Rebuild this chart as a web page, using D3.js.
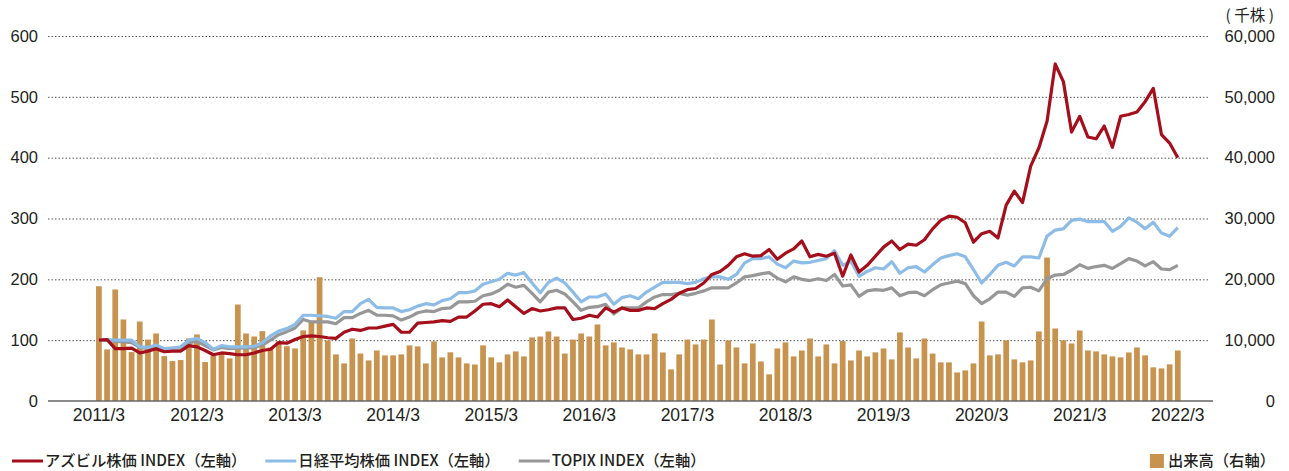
<!DOCTYPE html>
<html>
<head>
<meta charset="utf-8">
<script src="https://cdn.jsdelivr.net/npm/d3@7"></script>
<style>
  body { margin: 0; background: #fff; }
  svg { display: block; font-family: "Liberation Sans", Arial, sans-serif; }
  .jp { font-family: "Noto Sans CJK JP", "Noto Sans", sans-serif; }
</style>
</head>
<body>
<svg id="chart"></svg>
<script>
// chart size
const width = 1289, height = 471;

// months 2011/3 .. 2022/3
const months = d3.timeMonth.range(new Date(2011, 2, 1), new Date(2022, 3, 1)).map(d3.timeFormat('%Y/%-m'));
const tickLabels = ['2011/3','2012/3','2013/3','2014/3','2015/3','2016/3','2017/3','2018/3','2019/3','2020/3','2021/3','2022/3'];
const leftTicks = [0, 100, 200, 300, 400, 500, 600];
const rightTicks = [0, 10000, 20000, 30000, 40000, 50000, 60000];

// アズビル株価 INDEX
const azbil = [
  100, 101, 86, 86, 87, 79, 82, 86, 81, 82,
  82, 91, 89, 83, 76, 79, 78, 76, 76, 79,
  83, 85, 96, 95, 101, 106, 107, 106, 104, 103,
  113, 118, 116, 120, 120, 123, 126, 113, 113, 128,
  129, 130, 132, 131, 138, 138, 148, 159, 160, 155,
  166, 155, 144, 152, 148, 150, 153, 153, 134, 136,
  141, 138, 153, 146, 153, 149, 149, 153, 152, 160,
  167, 177, 183, 185, 194, 208, 213, 223, 237, 242,
  238, 239, 249, 233, 243, 250, 263, 237, 241, 238,
  243, 205, 240, 212, 223, 238, 253, 263, 249, 258,
  256, 265, 283, 297, 304, 302, 293, 261, 275, 279,
  268, 322, 345, 326, 386, 416, 460, 554, 525, 442,
  468, 434, 431, 452, 417, 468, 471, 475, 492, 514,
  438, 424, 400
];

// 日経平均株価 INDEX
const nikkei = [
  100, 101, 100, 100, 100, 89, 88, 92, 86, 86,
  89, 100, 103, 96, 85, 91, 89, 89, 89, 90,
  96, 107, 115, 119, 126, 141, 141, 140, 139, 136,
  147, 147, 160, 167, 154, 153, 153, 147, 150, 156,
  160, 158, 165, 168, 178, 178, 181, 192, 196, 200,
  210, 207, 211, 194, 178, 195, 202, 194, 179, 163,
  171, 171, 176, 159, 170, 173, 168, 179, 187, 195,
  195, 195, 193, 195, 201, 204, 204, 200, 208, 227,
  234, 234, 237, 225, 219, 230, 227, 228, 231, 234,
  247, 223, 230, 205, 213, 219, 217, 229, 210, 219,
  221, 212, 224, 235, 239, 242, 237, 216, 194, 208,
  223, 228, 222, 237, 237, 235, 271, 281, 283, 297,
  299, 295, 295, 295, 279, 287, 301, 294, 283, 294,
  276, 271, 285
];

// TOPIX INDEX
const topix = [
  100, 100, 98, 97, 96, 88, 86, 90, 86, 87,
  87, 96, 98, 91, 84, 88, 86, 87, 87, 88,
  92, 100, 109, 114, 120, 134, 130, 130, 130, 127,
  137, 137, 144, 149, 141, 141, 140, 133, 138, 145,
  148, 147, 152, 153, 163, 163, 164, 173, 176, 182,
  192, 187, 190, 177, 163, 179, 182, 176, 163, 149,
  154, 155, 159, 143, 153, 153, 153, 163, 171, 175,
  175, 177, 174, 177, 181, 186, 186, 186, 194, 204,
  206, 209, 211, 202, 196, 204, 200, 198, 201, 198,
  208, 189, 191, 172, 181, 183, 182, 186, 173, 178,
  179, 173, 183, 191, 194, 197, 193, 173, 160, 168,
  179, 179, 172, 186, 187, 181, 201, 207, 208, 215,
  224, 218, 221, 223, 218, 226, 234, 230, 222, 229,
  217, 216, 223
];

// 出来高 (千株)
const volume = [
  18870, 8480, 18330, 13400, 8040, 13070, 10100, 11100, 7380, 6560,
  6730, 10280, 10940, 6400, 7490, 8000, 7000, 15860, 11100, 10600,
  11480, 8800, 9800, 9000, 8640, 11600, 12860, 20350, 9960, 7660,
  6180, 10280, 7800, 6670, 8300, 7500, 7500, 7660, 9140, 8970,
  6180, 9800, 7170, 8000, 7170, 6180, 6000, 9140, 7170, 6350,
  7660, 8150, 7330, 10450, 10600, 11430, 10600, 7800, 10100, 11100,
  10600, 12580, 9140, 9630, 8800, 8480, 7660, 7660, 11100, 7980,
  5200, 7660, 10100, 9300, 10100, 13400, 6000, 9960, 8800, 6180,
  9460, 6500, 4380, 8640, 9630, 7330, 8300, 10280, 7330, 9300,
  6180, 9850, 6670, 8300, 7330, 8000, 8640, 6840, 11270, 8800,
  7000, 10280, 7800, 6350, 6350, 4700, 5030, 6180, 13070, 7500,
  7660, 9960, 6840, 6350, 6670, 11430, 23580, 11920, 9960, 9460,
  11590, 8300, 8150, 7660, 7330, 7170, 7980, 8800, 7500, 5530,
  5360, 6020, 8300
];

const colors = { azbil: '#a50f1b', nikkei: '#8dbde6', topix: '#979797', volume: '#c8934e' };
const textColor = '#231f20';

const svg = d3.select('#chart').attr('width', width).attr('height', height);

const plotLeft = 48, plotRight = 1213;
const yTop = 36, yBottom = 401;

const x = d3.scaleBand().domain(months).range([94.8, 1181.9]).paddingInner(0.3).paddingOuter(0.15);
const yL = d3.scaleLinear().domain([0, 600]).range([yBottom, yTop]);
const yR = d3.scaleLinear().domain([0, 60000]).range([yBottom, yTop]);
const cx = d => x(d) + x.bandwidth() / 2;

// left axis with gridlines
const gL = svg.append('g')
  .attr('transform', `translate(${plotLeft},0)`)
  .call(d3.axisLeft(yL).tickValues(leftTicks).tickSize(-(1210 - plotLeft)).tickPadding(10));
gL.select('.domain').remove();
gL.selectAll('.tick line')
  .attr('stroke', '#555').attr('stroke-width', 1).attr('stroke-dasharray', '1.5,2')
  .filter(d => d === 0).remove();
gL.selectAll('.tick text').attr('font-size', 16.5).attr('fill', textColor).attr('font-family', '"Liberation Sans", Arial, sans-serif');

// right axis
const gR = svg.append('g')
  .attr('transform', `translate(1275,0)`)
  .call(d3.axisRight(yR).tickValues(rightTicks).tickSize(0).tickPadding(0).tickFormat(d3.format(',')));
gR.select('.domain').remove();
gR.selectAll('.tick text').attr('text-anchor', 'end').attr('font-size', 16.5).attr('fill', textColor)
  .attr('font-family', '"Liberation Sans", Arial, sans-serif');

svg.append('text').attr('class', 'jp')
  .attr('x', 1274).attr('y', 21).attr('text-anchor', 'end')
  .attr('font-size', 15.5).attr('fill', textColor)
  .text('( 千株 )');

// volume bars
svg.append('g').selectAll('rect')
  .data(volume)
  .join('rect')
  .attr('x', (d, i) => x(months[i]))
  .attr('y', d => yR(d))
  .attr('width', x.bandwidth())
  .attr('height', d => yR(0) - yR(d))
  .attr('fill', colors.volume);

// x axis
const gX = svg.append('g')
  .attr('transform', `translate(0,${yBottom})`)
  .call(d3.axisBottom(x).tickValues(tickLabels).tickSize(0).tickPadding(8));
gX.select('.domain').remove();
gX.selectAll('.tick text').attr('font-size', 17.5).attr('fill', textColor)
  .attr('font-family', '"Liberation Sans", Arial, sans-serif');

svg.append('line')
  .attr('x1', plotLeft).attr('x2', plotRight)
  .attr('y1', yBottom).attr('y2', yBottom)
  .attr('stroke', '#666').attr('stroke-width', 1.5);

// index lines
const line = d3.line().x((d, i) => cx(months[i])).y(d => yL(d));
[['topix', topix], ['nikkei', nikkei], ['azbil', azbil]].forEach(([key, vals]) => {
  svg.append('path')
    .datum(vals)
    .attr('d', line)
    .attr('fill', 'none')
    .attr('stroke', colors[key])
    .attr('stroke-width', 3.2)
    .attr('stroke-linejoin', 'round');
});

// legend
const legendItems = [
  { key: 'azbil', label: 'アズビル株価 INDEX（左軸）' },
  { key: 'nikkei', label: '日経平均株価 INDEX（左軸）' },
  { key: 'topix', label: 'TOPIX INDEX（左軸）' }
];
let lx = 12;
const ly = 461;
legendItems.forEach(item => {
  svg.append('line')
    .attr('x1', lx).attr('x2', lx + 31).attr('y1', ly).attr('y2', ly)
    .attr('stroke', colors[item.key]).attr('stroke-width', 3);
  const t = svg.append('text').attr('class', 'jp')
    .attr('x', lx + 33).attr('y', ly).attr('dy', '0.35em')
    .attr('font-size', 15.3).attr('font-weight', 500).attr('fill', textColor)
    .text(item.label);
  lx += 33 + t.node().getComputedTextLength() + 19;
});

const vt = svg.append('text').attr('class', 'jp')
  .attr('x', 1275).attr('y', ly).attr('dy', '0.35em').attr('text-anchor', 'end')
  .attr('font-size', 15.3).attr('font-weight', 500).attr('fill', textColor)
  .text('出来高（右軸）');
const vw = vt.node().getComputedTextLength();
svg.append('rect')
  .attr('x', 1275 - vw - 18).attr('y', ly - 7)
  .attr('width', 14).attr('height', 14)
  .attr('fill', colors.volume);
</script>
</body>
</html>
